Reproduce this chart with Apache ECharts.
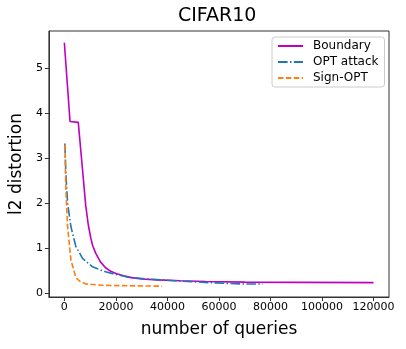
<!DOCTYPE html>
<html>
<head>
<meta charset="utf-8">
<script src="https://cdn.jsdelivr.net/npm/echarts@6/dist/echarts.min.js"></script>
<style>
  html, body { margin: 0; padding: 0; background: #fff; }
  #chart { width: 406px; height: 349px; }
</style>
</head>
<body>
<div id="chart"></div>
<script>
// values
const boundaryX = [0, 2200, 5400, 7000, 8300, 9300, 10300, 11000, 12200, 14000, 16000, 18000, 20000, 23000, 26000, 30000, 36000, 45000, 55000, 70000, 90000, 120000];
const boundaryY = [5.57, 3.82, 3.80, 2.78, 1.95, 1.52, 1.22, 1.06, 0.89, 0.70, 0.57, 0.49, 0.44, 0.39, 0.35, 0.32, 0.30, 0.28, 0.265, 0.25, 0.245, 0.24];

const optX = [200, 650, 1270, 2550, 4470, 7050, 10900, 16000, 20000, 25000, 32000, 43000, 56000, 68700, 77000];
const optY = [3.33, 2.59, 2.0, 1.48, 1.04, 0.78, 0.59, 0.48, 0.42, 0.36, 0.32, 0.28, 0.24, 0.21, 0.21];

const signX = [200, 400, 650, 1270, 2550, 4470, 6000, 8300, 14700, 25000, 37900];
const signY = [3.30, 2.74, 2.22, 1.48, 0.74, 0.35, 0.27, 0.21, 0.18, 0.17, 0.16];

const xTicks = [0, 20000, 40000, 60000, 80000, 100000, 120000];
const yTicks = [0, 1, 2, 3, 4, 5];

const toPairs = (xs, ys) => xs.map((x, i) => [x, ys[i]]);
const font = 'DejaVu Sans';

const chart = echarts.init(document.getElementById('chart'));
chart.setOption({
  animation: false,
  textStyle: { fontFamily: font },
  title: {
    text: 'CIFAR10',
    left: 178,
    top: 7,
    padding: 0,
    textStyle: { fontFamily: font, fontSize: 19, fontWeight: 'normal', color: '#000' }
  },
  grid: {
    left: 47, right: 17, top: 31, bottom: 52,
    show: true, borderColor: '#333', borderWidth: 1
  },
  legend: {
    orient: 'vertical',
    left: 272,
    top: 37,
    backgroundColor: '#fff',
    borderColor: '#ccc',
    borderWidth: 1,
    borderRadius: 3,
    padding: [3, 6, 3, 5],
    itemGap: 4,
    itemWidth: 25,
    itemHeight: 12,
    itemStyle: { opacity: 0 },
    textStyle: { fontFamily: font, fontSize: 12, color: '#000', padding: [0, 0, 0, 5] }
  },
  xAxis: {
    type: 'value',
    min: -6000,
    max: 126000,
    name: 'number of queries',
    nameLocation: 'middle',
    nameGap: 24,
    nameTextStyle: { fontFamily: font, fontSize: 17, color: '#000' },
    axisLine: { show: true, onZero: false, lineStyle: { color: '#333' } },
    axisTick: { show: true, length: 4, customValues: xTicks, lineStyle: { color: '#333' } },
    axisLabel: { customValues: xTicks, fontSize: 11, color: '#000', margin: 5, formatter: v => String(v) },
    splitLine: { show: false }
  },
  yAxis: {
    type: 'value',
    min: -0.08,
    max: 5.83,
    name: 'l2 distortion',
    nameLocation: 'middle',
    nameRotate: 90,
    nameGap: 22,
    nameTextStyle: { fontFamily: font, fontSize: 17, color: '#000' },
    axisLine: { show: true, onZero: false, lineStyle: { color: '#333' } },
    axisTick: { show: true, length: 4, customValues: yTicks, lineStyle: { color: '#333' } },
    axisLabel: { customValues: yTicks, fontSize: 11, color: '#000', margin: 6, formatter: v => String(v) },
    splitLine: { show: false }
  },
  series: [
    {
      name: 'Boundary',
      type: 'line',
      data: toPairs(boundaryX, boundaryY),
      showSymbol: false,
      symbol: 'none',
      lineStyle: { color: '#bf00bf', width: 1.6 },
      itemStyle: { color: '#bf00bf' },
      z: 2
    },
    {
      name: 'OPT attack',
      type: 'line',
      data: toPairs(optX, optY),
      showSymbol: false,
      symbol: 'none',
      lineStyle: { color: '#1f77b4', width: 1.6, type: [9.6, 2.4, 1.5, 2.4] },
      itemStyle: { color: '#1f77b4' },
      z: 3
    },
    {
      name: 'Sign-OPT',
      type: 'line',
      data: toPairs(signX, signY),
      showSymbol: false,
      symbol: 'none',
      lineStyle: { color: '#ff7f0e', width: 1.6, type: [5.5, 2.4] },
      itemStyle: { color: '#ff7f0e' },
      z: 4
    }
  ]
});
</script>
</body>
</html>
